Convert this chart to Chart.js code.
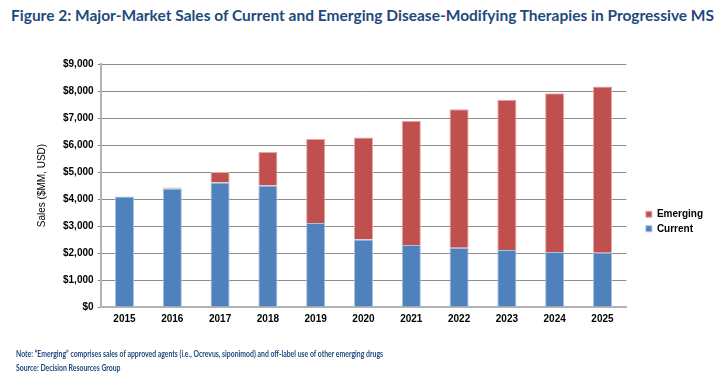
<!DOCTYPE html>
<html>
<head>
<meta charset="utf-8">
<script src="https://cdn.jsdelivr.net/npm/chart.js@4/dist/chart.umd.min.js"></script>
<style>
  html, body { margin:0; padding:0; background:#fff; }
  #wrap { position:relative; width:720px; height:379px; overflow:hidden; }
  #title { position:absolute; left:11px; top:6px; font-family:Lato, "Open Sans", sans-serif; font-weight:bold; font-size:15.5px; color:#1F497D; white-space:nowrap; }
  #notes { position:absolute; left:16px; top:347px; font-family:Lato, "Open Sans", sans-serif; font-weight:bold; font-size:8.6px; line-height:14px; color:#1F497D; white-space:nowrap; transform:scaleX(0.8); transform-origin:0 0; }
  canvas { position:absolute; left:0; top:0; }
</style>
</head>
<body>
<div id="wrap">
  <div id="title">Figure 2: Major-Market Sales of Current and Emerging Disease-Modifying Therapies in Progressive MS</div>
  <canvas id="c" width="720" height="379" style="width:720px;height:379px"></canvas>
  <div id="notes">Note: “Emerging” comprises sales of approved agents (i.e., Ocrevus, siponimod) and off-label use of other emerging drugs<br>Source: Decision Resources Group</div>
</div>
<script>
const years = ["2015","2016","2017","2018","2019","2020","2021","2022","2023","2024","2025"];
const current = [4090, 4390, 4610, 4500, 3110, 2500, 2300, 2190, 2110, 2040, 2010];
const emerging = [0, 40, 390, 1240, 3110, 3780, 4600, 5130, 5570, 5880, 6160];
const yTicksMax = 9000;
const yStep = 1000;

const tickFont = { family: "'Liberation Sans', Arial, sans-serif", size: 10, weight: 'bold' };

// shifts the legend box within the right-hand space
const legendShift = {
  id: 'legendShift',
  afterLayout(chart) {
    const l = chart.legend;
    if (!l) return;
    const dx = 15, dy = 24;
    l.left += dx; l.right += dx; l.top += dy; l.bottom += dy;
  }
};

new Chart(document.getElementById('c'), {
  type: 'bar',
  data: {
    labels: years,
    datasets: [
      { label: 'Current', data: current, backgroundColor: '#4F81BD', borderColor: '#A9C1E0', borderWidth: 1, barPercentage: 0.4, categoryPercentage: 1 },
      { label: 'Emerging', data: emerging, backgroundColor: '#C0504D', borderColor: '#E3A9A7', borderWidth: 1, barPercentage: 0.4, categoryPercentage: 1 }
    ]
  },
  options: {
    responsive: false,
    animation: false,
    devicePixelRatio: 1,
    layout: { padding: { top: 64, bottom: 48, left: 32, right: 22 } },
    plugins: {
      title: { display: false },
      tooltip: { enabled: false },
      legend: {
        position: 'right',
        reverse: true,
        labels: { boxWidth: 6, boxHeight: 6, padding: 4.5, color: '#000', font: { family: "'Liberation Sans', Arial, sans-serif", size: 10, weight: 'bold' } }
      }
    },
    scales: {
      x: {
        stacked: true,
        grid: { display: false, drawTicks: false },
        border: { color: '#B3B3B3', width: 2 },
        ticks: { color: '#000', font: tickFont, padding: 6 }
      },
      y: {
        stacked: true,
        min: 0,
        max: yTicksMax,
        grid: { color: '#8C8C8C', lineWidth: 1, tickLength: 3 },
        border: { color: '#B3B3B3', width: 2 },
        ticks: {
          stepSize: yStep, color: '#000', font: tickFont, padding: 4,
          callback: v => '$' + v.toLocaleString('en-US')
        },
        title: { display: true, text: 'Sales ($MM, USD)', color: '#000', font: { family: "'Liberation Sans', Arial, sans-serif", size: 10 }, padding: { bottom: 11 } }
      }
    }
  },
  plugins: [legendShift]
});
</script>
</body>
</html>
